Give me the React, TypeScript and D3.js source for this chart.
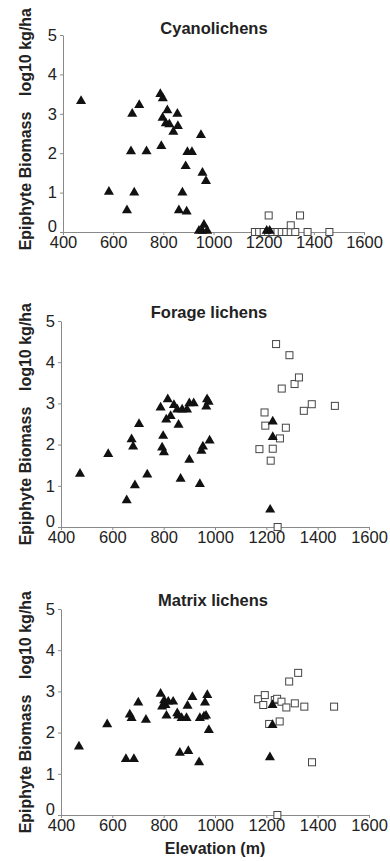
import React, { useRef, useEffect } from "react";
import * as d3 from "d3";

type Pt = [number, number]; // [elevation m, log10 kg/ha]

const xTicks = [400, 600, 800, 1000, 1200, 1400, 1600];
const yTicks = [0, 1, 2, 3, 4, 5];
const titles = ["Cyanolichens", "Forage lichens", "Matrix lichens"];

// Cyanolichens
const cyanoTriangles: Pt[] = [
  [472, 3.32], [583, 1.02], [655, 0.55], [676, 3.0], [671, 2.05], [684, 1.0],
  [704, 3.22], [733, 2.05], [788, 3.5], [798, 3.39], [797, 2.9], [792, 2.18],
  [816, 3.09], [810, 2.76], [824, 2.73], [840, 2.54], [856, 3.0], [858, 2.69],
  [862, 0.55], [876, 1.0], [893, 0.52], [889, 1.67], [896, 2.03], [914, 2.03],
  [950, 2.46], [956, 1.5], [970, 1.29], [962, 0.18], [942, 0.03], [955, 0.03],
  [975, 0.03], [1212, 0.03], [1224, 0.03],
];
const cyanoSquares: Pt[] = [
  [1165, 0], [1182, 0], [1200, 0], [1218, 0], [1235, 0], [1255, 0], [1272, 0],
  [1290, 0], [1308, 0], [1326, 0], [1375, 0], [1462, 0],
  [1220, 0.42], [1345, 0.42], [1308, 0.17],
];

// Forage lichens
const forageTriangles: Pt[] = [
  [474, 1.29], [584, 1.77], [656, 0.65], [675, 2.13], [681, 1.95], [688, 1.01],
  [704, 2.5], [736, 1.27], [788, 2.9], [798, 2.21], [794, 1.93], [801, 1.81],
  [816, 3.1], [810, 2.61], [827, 2.69], [840, 2.96], [858, 2.48], [853, 2.85],
  [872, 2.85], [866, 1.17], [891, 2.85], [900, 1.63], [900, 3.0], [917, 3.0],
  [941, 1.04], [947, 1.85], [953, 1.95], [966, 2.92], [969, 3.1], [975, 3.04],
  [979, 2.1], [1215, 0.42], [1225, 2.56], [1225, 2.18],
];
const forageSquares: Pt[] = [
  [1238, 4.44], [1290, 4.17], [1260, 3.36], [1310, 3.47], [1327, 3.63],
  [1346, 2.82], [1377, 2.98], [1467, 2.94], [1193, 2.78], [1196, 2.46],
  [1276, 2.41], [1253, 2.15], [1173, 1.89], [1225, 1.9], [1217, 1.61], [1244, 0],
];

// Matrix lichens
const matrixTriangles: Pt[] = [
  [470, 1.66], [580, 2.2], [653, 1.36], [684, 1.36], [668, 2.44], [675, 2.35],
  [701, 2.73], [731, 2.31], [788, 2.94], [794, 2.63], [807, 2.67], [802, 2.78],
  [811, 2.41], [818, 2.75], [837, 2.75], [853, 2.47], [857, 2.41], [870, 2.35],
  [863, 1.51], [889, 2.35], [893, 2.65], [896, 1.55], [912, 2.86], [938, 1.28],
  [941, 2.35], [957, 2.39], [965, 2.41], [961, 2.73], [970, 2.91], [976, 2.06],
  [1214, 1.4], [1224, 2.67], [1224, 2.18],
];
const matrixSquares: Pt[] = [
  [1168, 2.81], [1194, 2.91], [1188, 2.67], [1211, 2.21], [1233, 2.79],
  [1242, 2.82], [1259, 2.75], [1252, 2.27], [1278, 2.61], [1289, 3.24],
  [1311, 2.71], [1324, 3.45], [1348, 2.63], [1378, 1.28], [1464, 2.63], [1243, 0],
];

const seriesTriangles = [cyanoTriangles, forageTriangles, matrixTriangles];
const seriesSquares = [cyanoSquares, forageSquares, matrixSquares];

// pixel frame of each panel
const layout = [
  { left: 63, right: 364, top: 35, bottom: 232, titleX: 214, titleY: 34 },
  { left: 61, right: 369, top: 321, bottom: 527, titleX: 209, titleY: 318 },
  { left: 61, right: 369, top: 609, bottom: 815, titleX: 213, titleY: 606 },
];

const FONT = "'Liberation Sans', Arial, sans-serif";
const TEXT = "#222";
const AXIS = "#8a8a8a";

export default function App() {
  const svgRef = useRef<SVGSVGElement>(null);

  useEffect(() => {
    if (!svgRef.current) return;
    const svg = d3.select(svgRef.current);
    svg.selectAll("*").remove();

    layout.forEach((frame, i) => {
      const xScale = d3.scaleLinear().domain([400, 1600]).range([frame.left, frame.right]);
      const yScale = d3.scaleLinear().domain([0, 5]).range([frame.bottom, frame.top]);
      const g = svg.append("g");

      // title
      g.append("text")
        .attr("x", frame.titleX)
        .attr("y", frame.titleY)
        .attr("text-anchor", "middle")
        .style("font-family", FONT)
        .style("font-size", "16.5px")
        .style("font-weight", 700)
        .style("fill", TEXT)
        .text(titles[i]);

      // x axis
      const xAxis = g.append("g")
        .attr("transform", `translate(0,${frame.bottom})`)
        .call(
          d3.axisBottom(xScale)
            .tickValues(xTicks)
            .tickFormat(d3.format("d"))
            .tickSize(3)
            .tickSizeOuter(0)
            .tickPadding(1)
        );
      xAxis.selectAll("line, path").style("stroke", AXIS);
      xAxis.selectAll("text")
        .style("font-family", FONT)
        .style("font-size", "16.5px")
        .style("fill", TEXT);

      // y axis
      const yAxis = g.append("g")
        .attr("transform", `translate(${frame.left},0)`)
        .call(
          d3.axisLeft(yScale)
            .tickValues(yTicks)
            .tickFormat(d3.format("d"))
            .tickSize(3)
            .tickSizeOuter(0)
            .tickPadding(3)
        );
      yAxis.selectAll("line, path").style("stroke", AXIS);
      yAxis.selectAll<SVGTextElement, number>("text")
        .style("font-family", FONT)
        .style("font-size", "16.5px")
        .style("fill", TEXT)
        // the zero label sits a little above the axis line
        .attr("y", d => (d === 0 ? -6 : 0));

      // y axis title (two pieces)
      const yLabel = (txt: string, cy: number) =>
        g.append("text")
          .attr("transform", `translate(31,${cy}) rotate(-90)`)
          .attr("text-anchor", "middle")
          .style("font-family", FONT)
          .style("font-size", "16px")
          .style("font-weight", 700)
          .style("fill", TEXT)
          .text(txt);
      yLabel("Epiphyte Biomass", frame.bottom - 51);
      yLabel("log10 kg/ha", frame.bottom - 180);

      // squares
      const sq = 7;
      g.selectAll("rect.sq")
        .data(seriesSquares[i])
        .join("rect")
        .attr("class", "sq")
        .attr("x", d => xScale(d[0]) - sq / 2)
        .attr("y", d => yScale(d[1]) - sq / 2)
        .attr("width", sq)
        .attr("height", sq)
        .attr("fill", "#fff")
        .attr("stroke", "#444")
        .attr("stroke-width", 1);

      // triangles
      const tri = d3.symbol().type(d3.symbolTriangle).size(44);
      g.selectAll("path.tri")
        .data(seriesTriangles[i])
        .join("path")
        .attr("class", "tri")
        .attr("transform", d => `translate(${xScale(d[0])},${yScale(d[1])})`)
        .attr("d", tri)
        .attr("fill", "#111");
    });

    // x axis title
    svg.append("text")
      .attr("x", 215)
      .attr("y", 854)
      .attr("text-anchor", "middle")
      .style("font-family", FONT)
      .style("font-size", "16px")
      .style("font-weight", 700)
      .style("fill", TEXT)
      .text("Elevation (m)");
  }, []);

  return (
    <svg
      ref={svgRef}
      width={390}
      height={861}
      style={{ position: "absolute", left: 0, top: 0, background: "#fff", display: "block" }}
    />
  );
}
